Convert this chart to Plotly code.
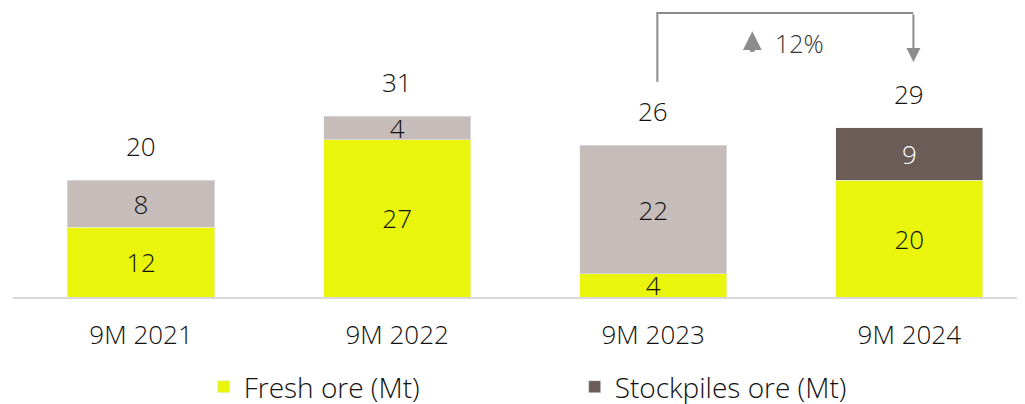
import plotly.graph_objects as go

periods = ["9M 2021", "9M 2022", "9M 2023", "9M 2024"]
fresh_ore = [12, 27, 4, 20]
stockpiles_ore = [8, 4, 22, 9]
totals = [20, 31, 26, 29]
growth_label = "12%"

YELLOW = "#E9F50A"
LIGHT_GREY = "#C6BCB9"
DARK_BROWN = "#6B5C57"
ARROW_GREY = "#8C8C8C"
FONT = "Open Sans"
TXT = dict(size=26, family=FONT, weight=300)

fig = go.Figure()

fig.add_trace(go.Bar(
    x=periods, y=fresh_ore, name="Fresh ore (Mt)",
    marker_color=YELLOW, text=fresh_ore, textposition="inside",
    textangle=0, constraintext="none", insidetextanchor="middle",
    textfont=dict(color="#111111", **TXT)))

# stockpiles for the first three periods are light grey, no legend entry
fig.add_trace(go.Bar(
    x=periods[:3], y=stockpiles_ore[:3], name="Stockpiles ore (Mt)",
    marker_color=LIGHT_GREY, text=stockpiles_ore[:3], textposition="inside",
    textangle=0, constraintext="none", insidetextanchor="middle",
    showlegend=False,
    textfont=dict(color="#111111", **TXT)))

fig.add_trace(go.Bar(
    x=periods[3:], y=stockpiles_ore[3:], name="Stockpiles ore (Mt)",
    marker_color=DARK_BROWN, text=stockpiles_ore[3:], textposition="inside",
    textangle=0, constraintext="none", insidetextanchor="middle",
    textfont=dict(color="#ffffff", **TXT)))

# totals above bars
for p, t in zip(periods, totals):
    fig.add_annotation(x=p, y=t, text=str(t), showarrow=False,
                       yanchor="middle", yshift=34,
                       font=dict(color="#111111", **TXT))

# growth bracket 2023 -> 2024
fig.add_shape(type="path", path="M 2.016,36.9 L 2.016,48.7 L 3.016,48.7",
              xref="x", yref="y",
              line=dict(color=ARROW_GREY, width=2))
fig.add_annotation(x=3.016, y=40.3, ax=3.016, ay=48.7, axref="x", ayref="y",
                   xref="x", yref="y", text="", showarrow=True,
                   arrowhead=2, arrowsize=1.4, arrowwidth=2, arrowcolor=ARROW_GREY)
# small up arrow icon
fig.add_annotation(x=2.387, y=45.6, ax=0, ay=22, xref="x", yref="y", text="",
                   showarrow=True, arrowhead=2, arrowsize=0.75, arrowwidth=5,
                   arrowcolor=ARROW_GREY)
fig.add_annotation(x=2.469, y=43.6, xref="x", yref="y", text=growth_label,
                   showarrow=False, xanchor="left", yanchor="middle",
                   font=dict(size=25, color="#333333", family=FONT, weight=300))

fig.update_layout(
    barmode="stack", bargap=0.425,
    width=1017, height=404,
    margin=dict(l=5, r=3, t=0, b=114),
    plot_bgcolor="white", paper_bgcolor="white",
    font=dict(color="#111111", **TXT),
    legend=dict(orientation="h", x=0.189, xanchor="left", y=-0.31, yanchor="middle",
                entrywidth=326, font=dict(size=28, family=FONT, weight=300),
                traceorder="normal"),
    xaxis=dict(range=[-0.5, 3.44], showline=True, linecolor="#D9D9D9", linewidth=2,
               ticks="", ticklabelstandoff=14, tickfont=TXT),
    yaxis=dict(range=[0, 49.57], visible=False),
)

fig.write_html("out.html")
